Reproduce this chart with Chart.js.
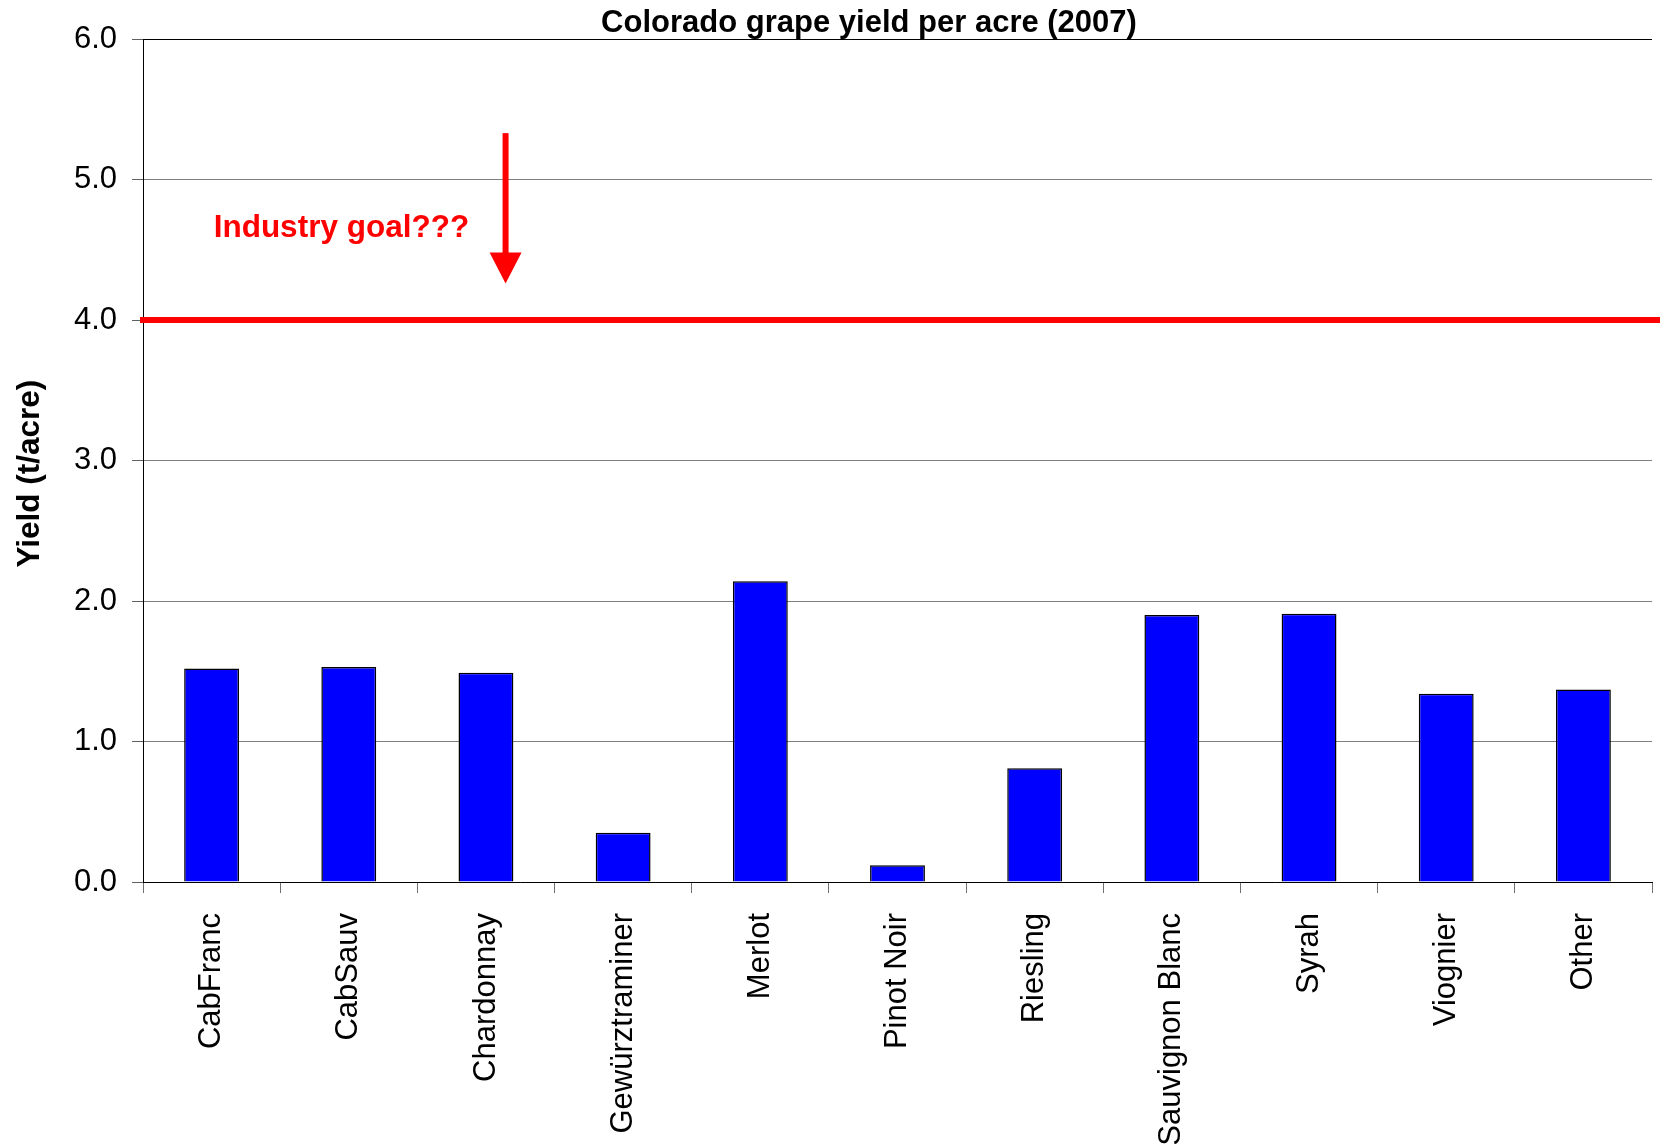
<!DOCTYPE html>
<html>
<head>
<meta charset="utf-8">
<script src="https://cdn.jsdelivr.net/npm/chart.js@4.4.1/dist/chart.umd.min.js"></script>
<style>
  html, body { margin: 0; padding: 0; background: #ffffff; }
  #c { display: block; }
</style>
</head>
<body>
<canvas id="c" width="1660" height="1144"></canvas>
<script>
// ---- Data ----
const chartTitle = 'Colorado grape yield per acre (2007)';
const yAxisTitle = 'Yield (t/acre)';
const categories = ['CabFranc', 'CabSauv', 'Chardonnay', 'Gewürztraminer', 'Merlot', 'Pinot Noir', 'Riesling', 'Sauvignon Blanc', 'Syrah', 'Viognier', 'Other'];
const yields = [1.52, 1.53, 1.49, 0.35, 2.14, 0.12, 0.81, 1.90, 1.91, 1.34, 1.37];
const yTicks = [0, 1, 2, 3, 4, 5, 6];
const goalValue = 4.0;
const goalLabel = 'Industry goal???';
// annotation anchors in data units (category index, yield)
const goalLabelAt = [0.015, 4.59];
const arrowAt = [2.143, 5.33, 4.48, 4.26]; // x, shaft top, head base, tip

const FONT = '"Liberation Sans", Arial, Helvetica, sans-serif';

const overlay = {
  id: 'overlay',
  afterDatasetsDraw(chart) {
    const { ctx, chartArea, scales } = chart;
    const xs = scales.x, ys = scales.y;
    ctx.save();
    // goal line
    const gy = ys.getPixelForValue(goalValue);
    ctx.strokeStyle = '#ff0000';
    ctx.lineWidth = 6;
    ctx.beginPath();
    ctx.moveTo(chartArea.left - 3, gy);
    ctx.lineTo(chart.width, gy);
    ctx.stroke();
    // arrow
    const ax = xs.getPixelForValue(arrowAt[0]);
    const aTop = ys.getPixelForValue(arrowAt[1]);
    const aBase = ys.getPixelForValue(arrowAt[2]);
    const aTip = ys.getPixelForValue(arrowAt[3]);
    ctx.fillStyle = '#ff0000';
    ctx.fillRect(ax - 3, aTop, 6, aBase - aTop + 1);
    ctx.beginPath();
    ctx.moveTo(ax - 16, aBase);
    ctx.lineTo(ax + 16, aBase);
    ctx.lineTo(ax, aTip);
    ctx.closePath();
    ctx.fill();
    // label
    ctx.font = 'bold 31.5px ' + FONT;
    ctx.textAlign = 'left';
    ctx.textBaseline = 'alphabetic';
    ctx.fillText(goalLabel, xs.getPixelForValue(goalLabelAt[0]), ys.getPixelForValue(goalLabelAt[1]));
    ctx.restore();
  },
  afterDraw(chart) {
    const { ctx } = chart;
    ctx.save();
    ctx.fillStyle = '#000000';
    ctx.font = 'bold 31px ' + FONT;
    ctx.textAlign = 'center';
    ctx.textBaseline = 'alphabetic';
    ctx.fillText(chartTitle, 869, 32);
    ctx.restore();
  }
};

new Chart(document.getElementById('c'), {
  type: 'bar',
  data: {
    labels: categories,
    datasets: [{
      label: 'Yield',
      data: yields,
      backgroundColor: '#0000ff',
      borderColor: '#000000',
      borderWidth: 1.5,
      borderSkipped: 'bottom',
      barPercentage: 0.4,
      categoryPercentage: 1.0
    }]
  },
  options: {
    responsive: false,
    animation: false,
    devicePixelRatio: 1,
    layout: { padding: { top: 39, right: 8, left: 0, bottom: 0 } },
    plugins: {
      legend: { display: false },
      title: { display: false },
      tooltip: { enabled: false }
    },
    scales: {
      x: {
        offset: true,
        afterFit(scale) { scale.height = 262; },
        grid: {
          offset: true,
          drawOnChartArea: true,
          color: (c) => (c.index === categories.length ? '#707070' : 'rgba(0,0,0,0)'),
          tickColor: '#707070',
          tickLength: 11,
          lineWidth: 1
        },
        border: { color: '#000000', width: 1 },
        ticks: {
          autoSkip: false,
          minRotation: 90,
          maxRotation: 90,
          padding: 20,
          color: '#000000',
          font: { family: FONT, size: 31 }
        }
      },
      y: {
        min: yTicks[0],
        max: yTicks[yTicks.length - 1],
        afterFit(scale) { scale.width = 143; },
        afterBuildTicks(scale) { scale.ticks = yTicks.map(v => ({ value: v })); },
        grid: {
          color: (c) => (c.tick && c.tick.value === yTicks[yTicks.length - 1] ? '#000000' : '#808080'),
          tickColor: '#606060',
          tickLength: 11,
          lineWidth: 1
        },
        border: { color: '#000000', width: 1 },
        ticks: {
          padding: 15,
          color: '#000000',
          font: { family: FONT, size: 31 },
          callback: (v) => Number(v).toFixed(1)
        },
        title: {
          display: true,
          text: yAxisTitle + '   ',
          color: '#000000',
          font: { family: FONT, size: 31.5, weight: 'bold' },
          padding: { top: 11, bottom: 0 }
        }
      }
    }
  },
  plugins: [overlay]
});
</script>
</body>
</html>
